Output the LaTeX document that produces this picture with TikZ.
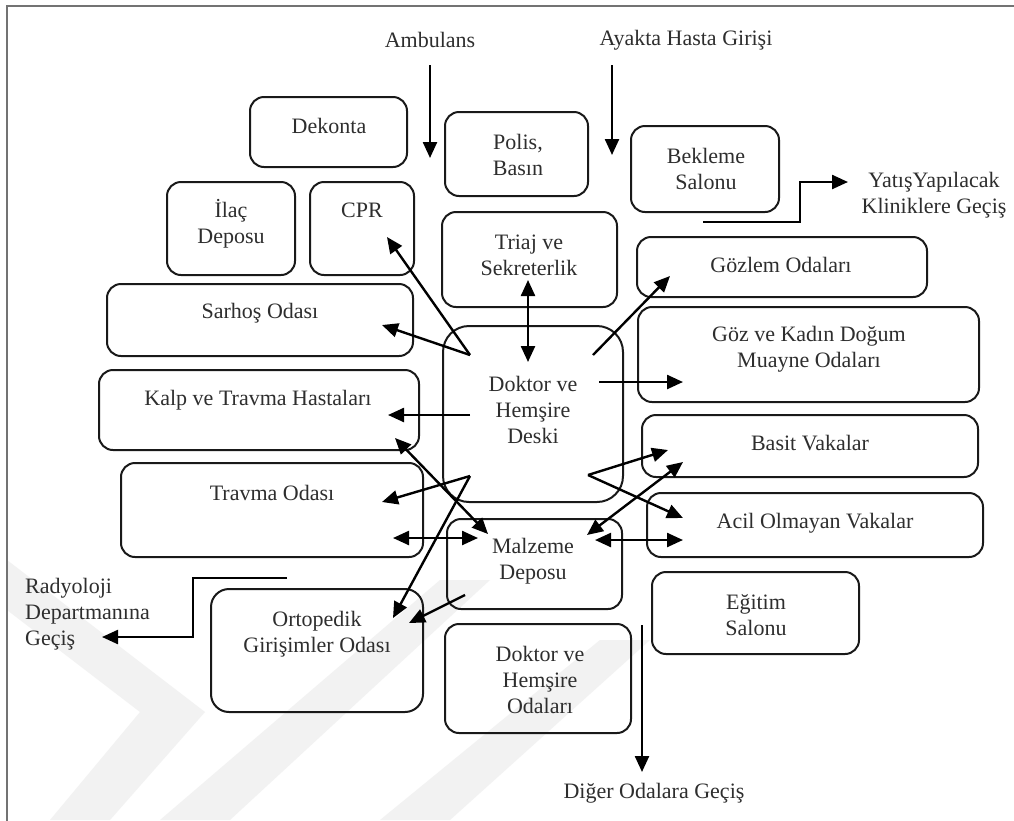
\documentclass[tikz,border=0pt]{standalone}
\usepackage{fontspec}
\setmainfont{Liberation Serif}
\usetikzlibrary{arrows.meta,fit}
\begin{document}
\begin{tikzpicture}[x=1pt,y=-1pt,
  box/.style={draw=black!90, line width=2pt, rounded corners=14pt, inner sep=0pt},
  lbl/.style={text=black!82, font=\fontsize{22}{26}\selectfont, align=center, inner sep=0pt},
  conn/.style={draw=black, line width=2.4pt, -{Triangle[length=16pt,width=14pt]}},
  dconn/.style={draw=black, line width=2.4pt, {Triangle[length=16pt,width=14pt]}-{Triangle[length=16pt,width=14pt]}},
  wm/.style={fill=black!5, draw=none}]
\useasboundingbox (0,0) rectangle (1014,820);
\fill[white] (0,0) rectangle (1014,820);
% watermark
\fill[wm] (7,560) -- (205,712) -- (110,820) -- (50,820) -- (140,712) -- (7,610) -- cycle;
\fill[wm] (160,820) -- (440,580) -- (490,580) -- (230,820) -- cycle;
\fill[wm] (380,820) -- (600,640) -- (650,640) -- (450,820) -- cycle;
% frame
\draw[black!55, line width=1.5pt] (7,830) -- (7,6) -- (1020,6);

% boxes
\node[box, fit={(250,97)(407,167)}] (dekB) {};
\node[box, fit={(167,182)(295,275)}] (ilacB) {};
\node[box, fit={(310,182)(414,275)}] (cprB) {};
\node[box, fit={(445,112)(588,196)}] (polB) {};
\node[box, fit={(442,212)(617,307)}] (triB) {};
\node[box, fit={(631,126)(779,212)}] (bekB) {};
\node[box, fit={(637,237)(927,297)}] (gozlB) {};
\node[box, fit={(638,307)(979,402)}] (gozB) {};
\node[box, fit={(642,415)(978,477)}] (basB) {};
\node[box, fit={(647,493)(983,557)}] (acilB) {};
\node[box, fit={(107,284)(413,356)}] (sarB) {};
\node[box, fit={(99,370)(419,450)}] (kalpB) {};
\node[box, fit={(121,463)(423,557)}] (travB) {};
\node[box, rounded corners=26pt, fit={(443,326)(623,502)}] (deskB) {};
\node[box, fit={(447,519)(622,609)}] (malzB) {};
\node[box, rounded corners=18pt, fit={(211,589)(423,712)}] (ortB) {};
\node[box, fit={(445,624)(631,733)}] (dhoB) {};
\node[box, fit={(652,572)(859,654)}] (egtB) {};

% texts
\node[lbl] (ambT) at (430,40) {Ambulans};
\node[lbl] (ayaT) at (686,40) {Ayakta Hasta Girişi};
\node[lbl] (dekT) at (329,126) {Dekonta};
\node[lbl] (ilacT) at (231,224) {İlaç\\Deposu};
\node[lbl] (cprT) at (362,210) {CPR};
\node[lbl] (polT) at (518,155) {Polis,\\Basın};
\node[lbl] (triT) at (529,255) {Triaj ve\\Sekreterlik};
\node[lbl] (bekT) at (706,169) {Bekleme\\Salonu};
\node[lbl] (yatT) at (934,195) {YatışYapılacak\\Kliniklere Geçiş};
\node[lbl] (gozlT) at (781,265) {Gözlem Odaları};
\node[lbl] (gozT) at (809,349) {Göz ve Kadın Doğum\\Muayne Odaları};
\node[lbl] (basT) at (810,443) {Basit Vakalar};
\node[lbl] (acilT) at (815,523) {Acil Olmayan Vakalar};
\node[lbl] (sarT) at (260,313) {Sarhoş Odası};
\node[lbl] (kalpT) at (258,400) {Kalp ve Travma Hastaları};
\node[lbl] (travT) at (272,493) {Travma Odası};
\node[lbl] (deskT) at (533,410) {Doktor ve\\Hemşire\\Deski};
\node[lbl] (malzT) at (533,561) {Malzeme\\Deposu};
\node[lbl] (ortT) at (317,634) {Ortopedik\\Girişimler Odası};
\node[lbl] (dhoT) at (540,680) {Doktor ve\\Hemşire\\Odaları};
\node[lbl] (egtT) at (756,615) {Eğitim\\Salonu};
\node[lbl, anchor=west, align=left] (radT) at (25,614) {Radyoloji\\Departmanına\\Geçiş};
\node[lbl] (digT) at (654,793) {Diğer Odalara Geçiş};

% connector end points
\coordinate (ambS) at (430,65);   \coordinate (ambE) at (430,158);
\coordinate (ayaS) at (612,65);   \coordinate (ayaE) at (612,155);
\coordinate (yatS) at (703,222);  \coordinate (yatK) at (800,222);
\coordinate (yatK2) at (800,182); \coordinate (yatE) at (848,182);
\coordinate (dUL) at (470,355);   \coordinate (dLL) at (470,476);
\coordinate (dUR) at (593,355);   \coordinate (dLR) at (588,475);
\coordinate (dW) at (470,415);    \coordinate (dE) at (599,382);
\coordinate (cprE) at (387,237);  \coordinate (sarE) at (382,325);
\coordinate (kalpE) at (388,415);
\coordinate (triE) at (528,280);  \coordinate (deskE) at (528,362);
\coordinate (gozlE) at (670,276); \coordinate (gozE) at (683,382);
\coordinate (basE) at (668,450);  \coordinate (acilE) at (683,518);
\coordinate (mzNE) at (587,535);  \coordinate (basE2) at (683,462);
\coordinate (mzE) at (595,540);   \coordinate (acilE2) at (683,540);
\coordinate (travE) at (382,502); \coordinate (ortE) at (393,618);
\coordinate (kalpE2) at (395,438); \coordinate (mzNW) at (488,534);
\coordinate (travE2) at (393,538); \coordinate (mzW) at (478,538);
\coordinate (mzSW) at (465,595);  \coordinate (ortE2) at (409,623);
\coordinate (radS) at (287,578);  \coordinate (radK) at (193,578);
\coordinate (radK2) at (193,637); \coordinate (radE) at (102,637);
\coordinate (digS) at (642,625);  \coordinate (digE) at (642,772);

% connectors
\draw[conn] (ambS) -- (ambE);
\draw[conn] (ayaS) -- (ayaE);
\draw[conn] (yatS) -- (yatK) -- (yatK2) -- (yatE);
\draw[conn] (dUL) -- (cprE);
\draw[conn] (dUL) -- (sarE);
\draw[conn] (dW) -- (kalpE);
\draw[dconn] (triE) -- (deskE);
\draw[conn] (dUR) -- (gozlE);
\draw[conn] (dE) -- (gozE);
\draw[conn] (dLR) -- (basE);
\draw[conn] (dLR) -- (acilE);
\draw[dconn] (mzNE) -- (basE2);
\draw[dconn] (mzE) -- (acilE2);
\draw[conn] (dLL) -- (travE);
\draw[conn] (dLL) -- (ortE);
\draw[dconn] (kalpE2) -- (mzNW);
\draw[dconn] (travE2) -- (mzW);
\draw[conn] (mzSW) -- (ortE2);
\draw[conn] (radS) -- (radK) -- (radK2) -- (radE);
\draw[conn] (digS) -- (digE);
\end{tikzpicture}
\end{document}
